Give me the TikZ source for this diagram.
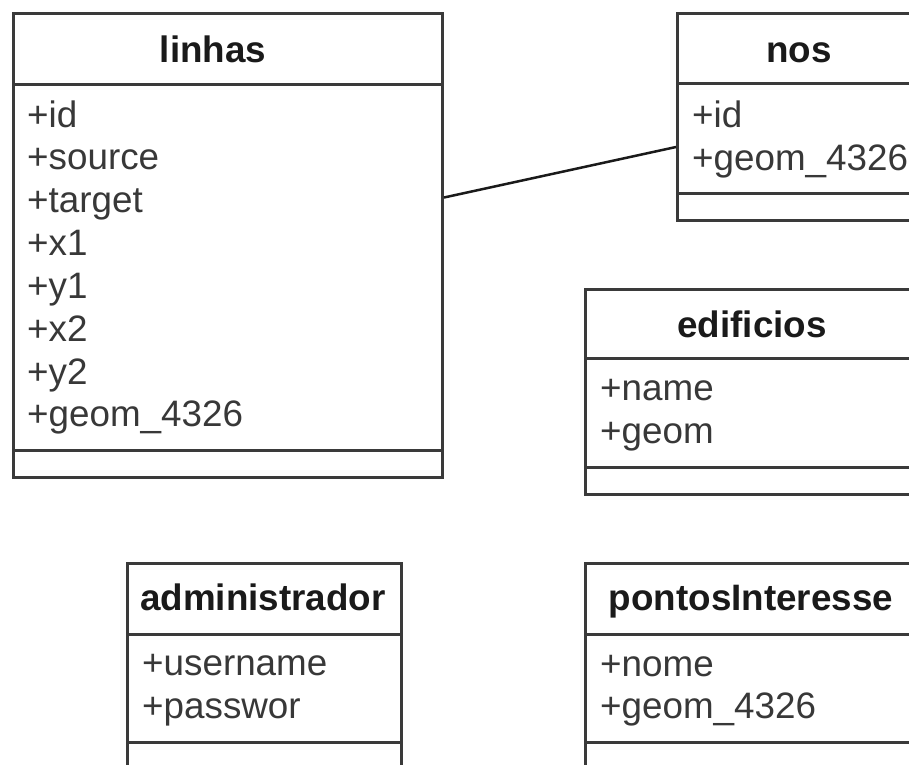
\documentclass[tikz,border=0pt]{standalone}
\usepackage{fontspec}
\setmainfont{Liberation Sans}
\definecolor{edge}{HTML}{3A3A3A}
\definecolor{attr}{HTML}{383838}
\definecolor{ttl}{HTML}{1A1A1A}
\begin{document}
\begin{tikzpicture}[x=1pt,y=-1pt,
  classbox/.style={draw=edge, line width=3pt, fill=white, rectangle, inner sep=0pt, anchor=north west},
  divider/.style={draw=edge, line width=3pt},
  title/.style={font=\fontsize{36.8}{43}\selectfont\bfseries, text=ttl, inner sep=0pt, anchor=base},
  field/.style={font=\fontsize{36.8}{43}\selectfont, text=attr, inner sep=0pt, anchor=base west},
  link/.style={draw=ttl, line width=2.5pt}]
\clip (0,0) rectangle (909,764);
\fill[white] (0,0) rectangle (909,764);

% class linhas
\node[classbox, minimum width=429pt, minimum height=464pt] (linhas) at (12,12) {};
\draw[divider] (12,84) -- (441,84);
\draw[divider] (12,450) -- (441,450);
\node[title] (linhasT) at (213,62) {linhas};
\foreach \t [count=\i from 0] in {+id,+source,+target,+x1,+y1,+x2,+y2,+geom\_4326}
  \node[field] (linhasF\i) at (27,127+42.85*\i) {\t};

% class nos
\node[classbox, minimum width=246pt, minimum height=207pt] (nos) at (676,12) {};
\draw[divider] (676,83) -- (922,83);
\draw[divider] (676,193) -- (922,193);
\node[title] (nosT) at (799,62) {nos};
\node[field] (nosF0) at (692,127) {+id};
\node[field] (nosF1) at (692,170) {+geom\_4326};

% class edificios
\node[classbox, minimum width=338pt, minimum height=205pt] (edificios) at (584,288) {};
\draw[divider] (584,358) -- (922,358);
\draw[divider] (584,467) -- (922,467);
\node[title] (edificiosT) at (752,337) {edificios};
\node[field] (edificiosF0) at (600,400) {+name};
\node[field] (edificiosF1) at (600,443) {+geom};

% class administrador
\node[classbox, minimum width=274pt, minimum height=240pt] (admin) at (126,562) {};
\draw[divider] (126,634) -- (400,634);
\draw[divider] (126,742) -- (400,742);
\node[title] (adminT) at (263,610) {administrador};
\node[field] (adminF0) at (142,675) {+username};
\node[field] (adminF1) at (142,718) {+passwor};

% class pontosInteresse
\node[classbox, minimum width=338pt, minimum height=240pt] (pontos) at (584,562) {};
\draw[divider] (584,634) -- (922,634);
\draw[divider] (584,742) -- (922,742);
\node[title] (pontosT) at (751,610) {pontosInteresse};
\node[field] (pontosF0) at (600,676) {+nome};
\node[field] (pontosF1) at (600,718) {+geom\_4326};

% association linhas -- nos
\draw[link] ([yshift=48pt]linhas.east) -- ([yshift=-30pt]nos.west);
\end{tikzpicture}
\end{document}
